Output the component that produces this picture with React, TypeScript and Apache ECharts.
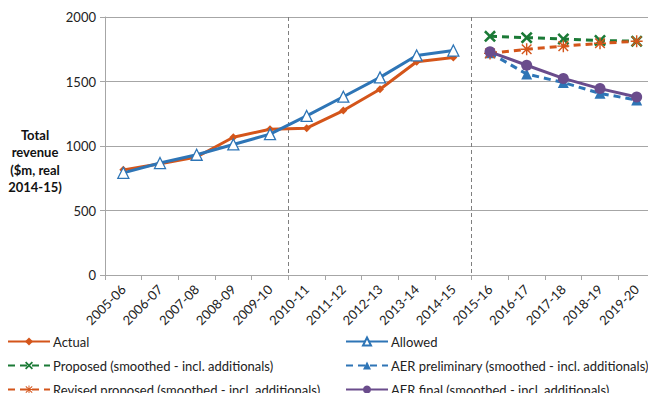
import React, { useEffect, useRef } from "react";
import * as echarts from "echarts";

const categories = [
  "2005-06", "2006-07", "2007-08", "2008-09", "2009-10",
  "2010-11", "2011-12", "2012-13", "2013-14", "2014-15",
  "2015-16", "2016-17", "2017-18", "2018-19", "2019-20",
];

const actual = [815, 862, 915, 1068, 1130, 1138, 1275, 1440, 1653, 1686, null, null, null, null, null];
const allowed = [792, 868, 932, 1012, 1092, 1233, 1382, 1532, 1702, 1740, null, null, null, null, null];
const proposed = [null, null, null, null, null, null, null, null, null, null, 1850, 1840, 1830, 1818, 1812];
const revisedProposed = [null, null, null, null, null, null, null, null, null, null, 1718, 1750, 1774, 1796, 1812];
const aerPreliminary = [null, null, null, null, null, null, null, null, null, null, 1722, 1558, 1492, 1408, 1356];
const aerFinal = [null, null, null, null, null, null, null, null, null, null, 1730, 1626, 1524, 1445, 1380];

const yTicks = { min: 0, max: 2000, interval: 500 };
const dividerIndices = [5, 10];

const ORANGE = "#D4551A";
const BLUE = "#2E75B6";
const GREEN = "#1B7A36";
const PURPLE = "#6A4C8C";
const FONT = "Lato, 'Liberation Sans', sans-serif";

const X_SYMBOL =
  "path://M0,1.5 L1.5,0 L5,3.5 L8.5,0 L10,1.5 L6.5,5 L10,8.5 L8.5,10 L5,6.5 L1.5,10 L0,8.5 L3.5,5 Z";
const STAR_SYMBOL =
  "path://M4.4,0 L5.6,0 L5.6,10 L4.4,10 Z M0,4.4 L10,4.4 L10,5.6 L0,5.6 Z " +
  "M1.42,0.58 L9.42,8.58 L8.58,9.42 L0.58,1.42 Z M9.42,1.42 L1.42,9.42 L0.58,8.58 L8.58,0.58 Z";

const legendBase = {
  orient: "vertical",
  top: 330,
  height: 80,
  itemWidth: 42,
  itemHeight: 10,
  itemGap: 11,
  textStyle: { fontFamily: FONT, fontSize: 13, color: "#222", padding: [0, 0, 0, -2] },
};

export default function App() {
  const ref = useRef<HTMLDivElement>(null);

  useEffect(() => {
    if (!ref.current) return;
    const chart = echarts.init(ref.current, null, { renderer: "svg" });
    chart.setOption({
      animation: false,
      textStyle: { fontFamily: FONT },
      grid: { left: 105, right: 1, top: 17, bottom: 126, containLabel: false },
      graphic: [
        {
          type: "text",
          x: 35,
          y: 126,
          style: {
            text: "Total\nrevenue\n($m, real\n2014-15)",
            fontFamily: FONT,
            fontWeight: "bold",
            fontSize: 13,
            lineHeight: 17.5,
            fill: "#111",
            align: "center",
            verticalAlign: "top",
          },
        },
      ],
      legend: [
        {
          ...legendBase,
          left: 2,
          data: ["Actual", "Proposed (smoothed - incl. additionals)", "Revised proposed (smoothed - incl. additionals)"],
        },
        {
          ...legendBase,
          left: 340,
          data: ["Allowed", "AER preliminary (smoothed - incl. additionals)", "AER final (smoothed - incl. additionals)"],
        },
      ],
      xAxis: {
        type: "category",
        data: categories,
        boundaryGap: true,
        axisLine: { lineStyle: { color: "#A6A6A6", width: 1 } },
        axisTick: { show: true, length: 5, lineStyle: { color: "#A6A6A6" } },
        axisLabel: { rotate: 45, fontSize: 13, color: "#222", margin: 12, interval: 0, fontFamily: FONT },
        splitLine: {
          show: true,
          interval: (index: number) => dividerIndices.indexOf(index) >= 0,
          lineStyle: { color: "#7F7F7F", type: [4, 3], width: 1 },
        },
      },
      yAxis: {
        type: "value",
        min: yTicks.min,
        max: yTicks.max,
        interval: yTicks.interval,
        axisLine: { show: true, lineStyle: { color: "#A6A6A6" } },
        axisTick: { show: true, length: 5, lineStyle: { color: "#A6A6A6" } },
        axisLabel: { fontSize: 13, color: "#222", margin: 9, fontFamily: FONT, formatter: (v: number) => String(v) },
        splitLine: { lineStyle: { color: "#A6A6A6", width: 1 } },
      },
      series: [
        {
          name: "Actual",
          type: "line",
          data: actual,
          symbol: "diamond",
          symbolSize: 8,
          itemStyle: { color: ORANGE },
          lineStyle: { color: ORANGE, width: 3 },
        },
        {
          name: "Allowed",
          type: "line",
          data: allowed,
          symbol: "triangle",
          symbolSize: 11,
          itemStyle: { color: "#ffffff", borderColor: BLUE, borderWidth: 1.3 },
          lineStyle: { color: BLUE, width: 3 },
          z: 3,
        },
        {
          name: "Proposed (smoothed - incl. additionals)",
          type: "line",
          data: proposed,
          symbol: X_SYMBOL,
          symbolSize: 12,
          itemStyle: { color: GREEN },
          lineStyle: { color: GREEN, width: 3, type: [7, 5] },
        },
        {
          name: "AER preliminary (smoothed - incl. additionals)",
          type: "line",
          data: aerPreliminary,
          symbol: "triangle",
          symbolSize: 11,
          itemStyle: { color: BLUE },
          lineStyle: { color: BLUE, width: 3, type: [7, 5] },
        },
        {
          name: "Revised proposed (smoothed - incl. additionals)",
          type: "line",
          data: revisedProposed,
          symbol: STAR_SYMBOL,
          symbolSize: 12,
          itemStyle: { color: ORANGE },
          lineStyle: { color: ORANGE, width: 3, type: [7, 5] },
        },
        {
          name: "AER final (smoothed - incl. additionals)",
          type: "line",
          data: aerFinal,
          symbol: "circle",
          symbolSize: 11,
          itemStyle: { color: PURPLE },
          lineStyle: { color: PURPLE, width: 3 },
          z: 4,
        },
      ],
    });
    return () => chart.dispose();
  }, []);

  return <div ref={ref} style={{ width: 656, height: 401, margin: -8 }} />;
}
